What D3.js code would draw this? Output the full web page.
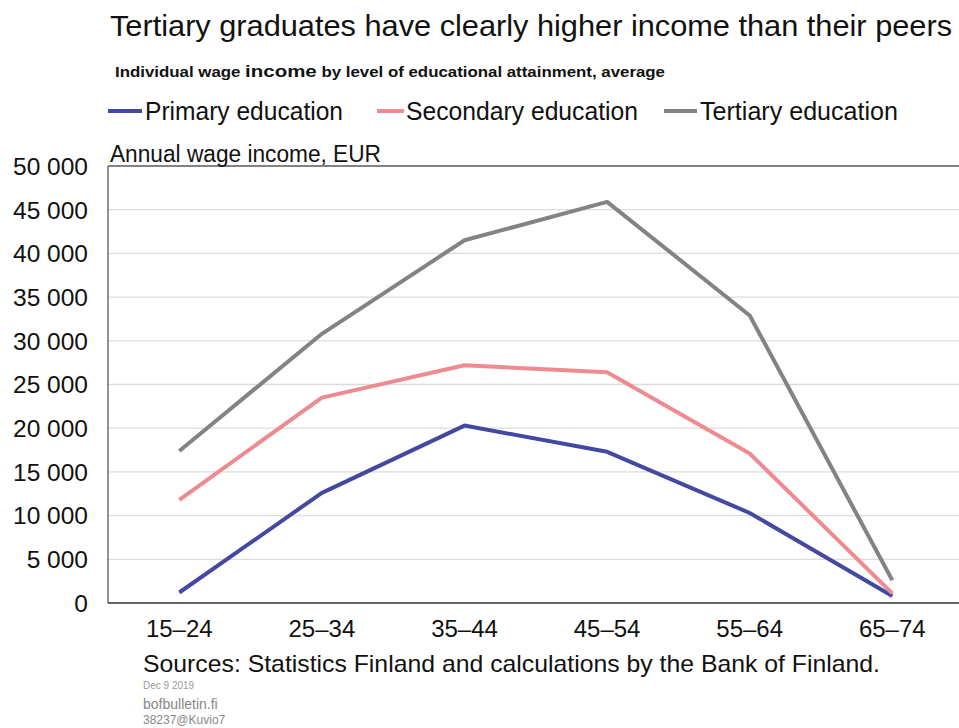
<!DOCTYPE html>
<html><head><meta charset="utf-8">
<script src="https://cdn.jsdelivr.net/npm/d3@7"></script>
<style>html,body{margin:0;padding:0;background:#fff;overflow:hidden}svg{display:block;font-family:"Liberation Sans",Arial,sans-serif}</style>
</head><body>
<svg id="c" width="959" height="728"></svg>
<script>
const categories = ["15–24","25–34","35–44","45–54","55–64","65–74"];
const primary   = [1200, 12600, 20300, 17300, 10300, 800];
const secondary = [11800, 23500, 27200, 26400, 17100, 1100];
const tertiary  = [17400, 30800, 41500, 45900, 32900, 2600];
const yTicks = [0,5000,10000,15000,20000,25000,30000,35000,40000,45000,50000];
const seriesNames = ["Primary education","Secondary education","Tertiary education"];
const seriesColors = ["#4349a0","#ee8a90","#838383"];

(function(){
const svg = d3.select("#c");
const pL = 108, pT = 166, pB = 603, pR = 963.6;
const x = d3.scalePoint().domain(categories).range([pL, pR]).padding(0.5);
const y = d3.scaleLinear().domain([0, 50000]).range([pB, pT]);
const fmt = v => d3.format(",")(v).replace(/,/g, " ");

// gridlines
svg.append("g").selectAll("line").data(yTicks.filter(v => v > 0 && v < 50000)).join("line")
  .attr("x1", pL).attr("x2", pR).attr("y1", d => y(d)).attr("y2", d => y(d))
  .attr("stroke", "#dcdcdc").attr("stroke-width", 1.3);

// frame
svg.append("line").attr("x1", pL).attr("x2", pR).attr("y1", pT).attr("y2", pT).attr("stroke", "#5a5a5a").attr("stroke-width", 1.3);
svg.append("line").attr("x1", pL).attr("x2", pL).attr("y1", pT).attr("y2", pB).attr("stroke", "#5a5a5a").attr("stroke-width", 1.3);
svg.append("line").attr("x1", pL).attr("x2", pR).attr("y1", pB).attr("y2", pB).attr("stroke", "#333").attr("stroke-width", 1.6);

// y tick labels
svg.append("g").selectAll("text").data(yTicks).join("text")
  .attr("x", 88).attr("y", d => y(d) + 8.8).attr("text-anchor", "end")
  .attr("font-size", 24.5).attr("fill", "#111").text(d => fmt(d));

// x tick labels
svg.append("g").selectAll("text").data(categories).join("text")
  .attr("x", d => x(d)).attr("y", 637).attr("text-anchor", "middle")
  .attr("font-size", 24).attr("fill", "#111").text(d => d);

// lines
const line = d3.line().x((d, i) => x(categories[i])).y(d => y(d));
[primary, secondary, tertiary].forEach((s, i) => {
  svg.append("path").datum(s).attr("d", line).attr("fill", "none")
    .attr("stroke", seriesColors[i]).attr("stroke-width", 4).attr("stroke-linejoin", "round");
});

// title
svg.append("text").attr("x", 110).attr("y", 36).attr("font-size", 30).attr("fill", "#111")
  .attr("textLength", 842).attr("lengthAdjust", "spacingAndGlyphs")
  .text("Tertiary graduates have clearly higher income than their peers");

// subtitle
const st = svg.append("text").attr("x", 115).attr("y", 77).attr("font-weight", "bold").attr("fill", "#111")
  .attr("textLength", 550).attr("lengthAdjust", "spacingAndGlyphs");
st.append("tspan").attr("font-size", 14).text("Individual wage ");
st.append("tspan").attr("font-size", 17).text("income");
st.append("tspan").attr("font-size", 14).text(" by level of educational attainment, average");

// legend
const legPos = [{lx:108, lw:34, tx:145, tw:198},{lx:377, lw:27, tx:406, tw:232},{lx:664, lw:33, tx:700, tw:198}];
seriesNames.forEach((n, i) => {
  const p = legPos[i];
  svg.append("line").attr("x1", p.lx).attr("x2", p.lx + p.lw).attr("y1", 111).attr("y2", 111)
    .attr("stroke", seriesColors[i]).attr("stroke-width", 4);
  svg.append("text").attr("x", p.tx).attr("y", 120).attr("font-size", 25).attr("fill", "#111")
    .attr("textLength", p.tw).attr("lengthAdjust", "spacingAndGlyphs").text(n);
});

// y axis title
svg.append("text").attr("x", 110).attr("y", 162).attr("font-size", 23).attr("fill", "#111")
  .attr("textLength", 271).attr("lengthAdjust", "spacingAndGlyphs").text("Annual wage income, EUR");

// footer
svg.append("text").attr("x", 143).attr("y", 672).attr("font-size", 24).attr("fill", "#111")
  .attr("textLength", 737).attr("lengthAdjust", "spacingAndGlyphs")
  .text("Sources: Statistics Finland and calculations by the Bank of Finland.");
svg.append("text").attr("x", 143).attr("y", 689).attr("font-size", 10).attr("fill", "#999").text("Dec 9 2019");
svg.append("text").attr("x", 143).attr("y", 709).attr("font-size", 14).attr("fill", "#888").text("bofbulletin.fi");
svg.append("text").attr("x", 143).attr("y", 724).attr("font-size", 12).attr("fill", "#888").text("38237@Kuvio7");
})();
</script>
</body></html>
